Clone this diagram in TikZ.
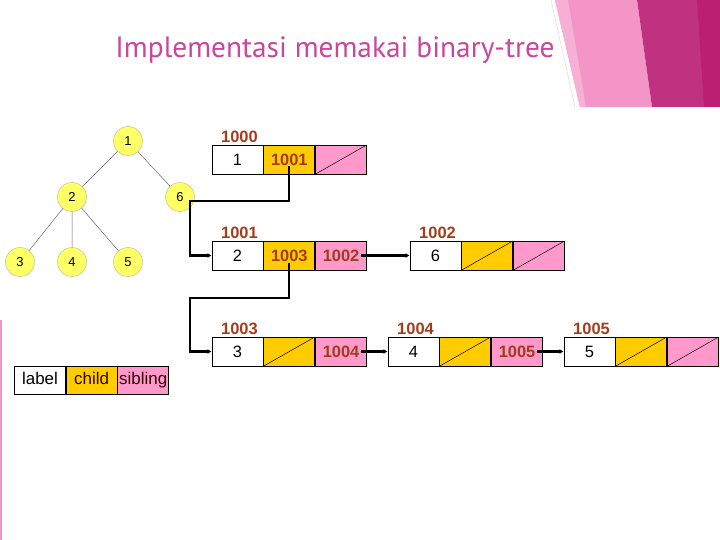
\documentclass[tikz,border=0pt]{standalone}
\usepackage{fontspec}
\setmainfont{Liberation Sans}
\newfontfamily\titlefont{PT Sans}
\usetikzlibrary{positioning,arrows.meta}
\definecolor{childcol}{HTML}{FFCC00}
\definecolor{sibcol}{HTML}{FF99CC}
\definecolor{addrcol}{HTML}{A33C1C}
\definecolor{titlecol}{HTML}{C8479C}
\definecolor{treefill}{HTML}{FFFF66}
\definecolor{treeline}{HTML}{B8B88C}
\definecolor{decolight}{HTML}{F495C8}
\definecolor{decopale}{HTML}{F7AFD6}
\definecolor{decodark}{HTML}{C0327F}
\definecolor{decodeep}{HTML}{BA1F72}
\tikzset{
  fld/.style={draw, line width=0.8pt, minimum width=51bp, minimum height=29bp,
              inner sep=0pt, font=\fontsize{16.5}{18}\selectfont},
  labelfld/.style={fld, fill=white},
  childfld/.style={fld, fill=childcol, text=addrcol, font=\bfseries\fontsize{16.5}{18}\selectfont},
  sibfld/.style={fld, fill=sibcol, text=addrcol, font=\bfseries\fontsize{16.5}{18}\selectfont},
  nilfld/.style={path picture={\draw[line width=0.5pt] (path picture bounding box.south west)
                 -- (path picture bounding box.north east);}},
  addr/.style={font=\bfseries\fontsize{16.5}{18}\selectfont, text=addrcol, inner sep=0pt},
  tnode/.style={circle, draw=treeline, fill=treefill, minimum size=29bp, inner sep=0pt,
                font=\fontsize{13}{14}\selectfont},
  tedge/.style={draw=black!60, line width=0.5pt},
  ptr/.style={line width=2.2pt, -{Latex[length=4pt,width=5pt]}},
  keyfld/.style={draw, line width=0.6pt, minimum width=51bp, minimum height=28bp,
                 inner sep=0pt, text height=12.5bp, text depth=3.5bp,
                 font=\fontsize{17}{19}\selectfont},
}

\begin{document}
\begin{tikzpicture}[x=1bp, y=-1bp]
  \useasboundingbox (0,0) rectangle (720,540);
  % slide decoration
  \fill[decolight] (555,0) -- (580,107) -- (652,107) -- (637,0) -- cycle;
  \fill[decopale] (555,0) -- (580,107) -- (586,107) -- (568,0) -- cycle;
  \fill[decodark] (637,0) -- (652,107) -- (720,107) -- (720,0) -- cycle;
  \fill[decodeep] (697,0) -- (704,107) -- (720,107) -- (720,0) -- cycle;
  \draw[decolight!60, line width=0.4pt] (551,0) -- (575,107);
  \fill[decolight] (0,320) rectangle (2,540);
  \node[font=\titlefont\fontsize{29.5}{32}\selectfont, text=titlecol] (title) at (335,50) {Implementasi memakai binary-tree};

  % the tree
  \node[tnode] (t1) at (128,141) {1};
  \node[tnode] (t2) at (72,197) {2};
  \node[tnode] (t6) at (180,197) {6};
  \node[tnode] (t3) at (20,262) {3};
  \node[tnode] (t4) at (72,262) {4};
  \node[tnode] (t5) at (128,262) {5};
  \path[tedge] (t1) -- (t2) (t1) -- (t6) (t2) -- (t3) (t2) -- (t4) (t2) -- (t5);

  % records: label | child | sibling
  \node[labelfld] (r0l) at (237.5,159.5) {1};
  \node[childfld, right=0pt of r0l] (r0c) {1001};
  \node[sibfld, nilfld, right=0pt of r0c] (r0s) {};
  \node[addr, above=2bp of r0l, xshift=2bp] (a0) {1000};

  \node[labelfld] (r1l) at (237.5,255.5) {2};
  \node[childfld, right=0pt of r1l] (r1c) {1003};
  \node[sibfld, right=0pt of r1c] (r1s) {1002};
  \node[addr, above=2bp of r1l, xshift=2bp] (a1) {1001};

  \node[labelfld] (r2l) at (237.5,351.5) {3};
  \node[childfld, nilfld, right=0pt of r2l] (r2c) {};
  \node[sibfld, right=0pt of r2c] (r2s) {1004};
  \node[addr, above=2bp of r2l, xshift=2bp] (a2) {1003};

  \node[labelfld] (r3l) at (435.5,255.5) {6};
  \node[childfld, nilfld, right=0pt of r3l] (r3c) {};
  \node[sibfld, nilfld, right=0pt of r3c] (r3s) {};
  \node[addr, above=2bp of r3l, xshift=2bp] (a3) {1002};

  \node[labelfld] (r4l) at (413.5,351.5) {4};
  \node[childfld, nilfld, right=0pt of r4l] (r4c) {};
  \node[sibfld, right=0pt of r4c] (r4s) {1005};
  \node[addr, above=2bp of r4l, xshift=2bp] (a4) {1004};

  \node[labelfld] (r5l) at (589.5,351.5) {5};
  \node[childfld, nilfld, right=0pt of r5l] (r5c) {};
  \node[sibfld, nilfld, right=0pt of r5c] (r5s) {};
  \node[addr, above=2bp of r5l, xshift=2bp] (a5) {1005};

  % pointers
  \coordinate (k0) at (190,201);
  \coordinate (k1) at (190,298);
  \draw[ptr] ([yshift=-7bp]r0c.center) |- (k0) |- (r1l.west);
  \draw[ptr] ([yshift=-7bp]r1c.center) |- (k1) |- (r2l.west);
  \draw[ptr] ([xshift=20bp]r1s.center) -- (r3l.west);
  \draw[ptr] ([xshift=20bp]r2s.center) -- (r4l.west);
  \draw[ptr] ([xshift=20bp]r4s.center) -- (r5l.west);

  % legend
  \node[keyfld, fill=white] (kl) at (40,380) {label};
  \node[keyfld, fill=childcol, text=black!80!red, right=0pt of kl] (kc) {child};
  \node[keyfld, fill=sibcol, text=black!80!red, right=0pt of kc] (ks) {sibling};
\end{tikzpicture}
\end{document}
